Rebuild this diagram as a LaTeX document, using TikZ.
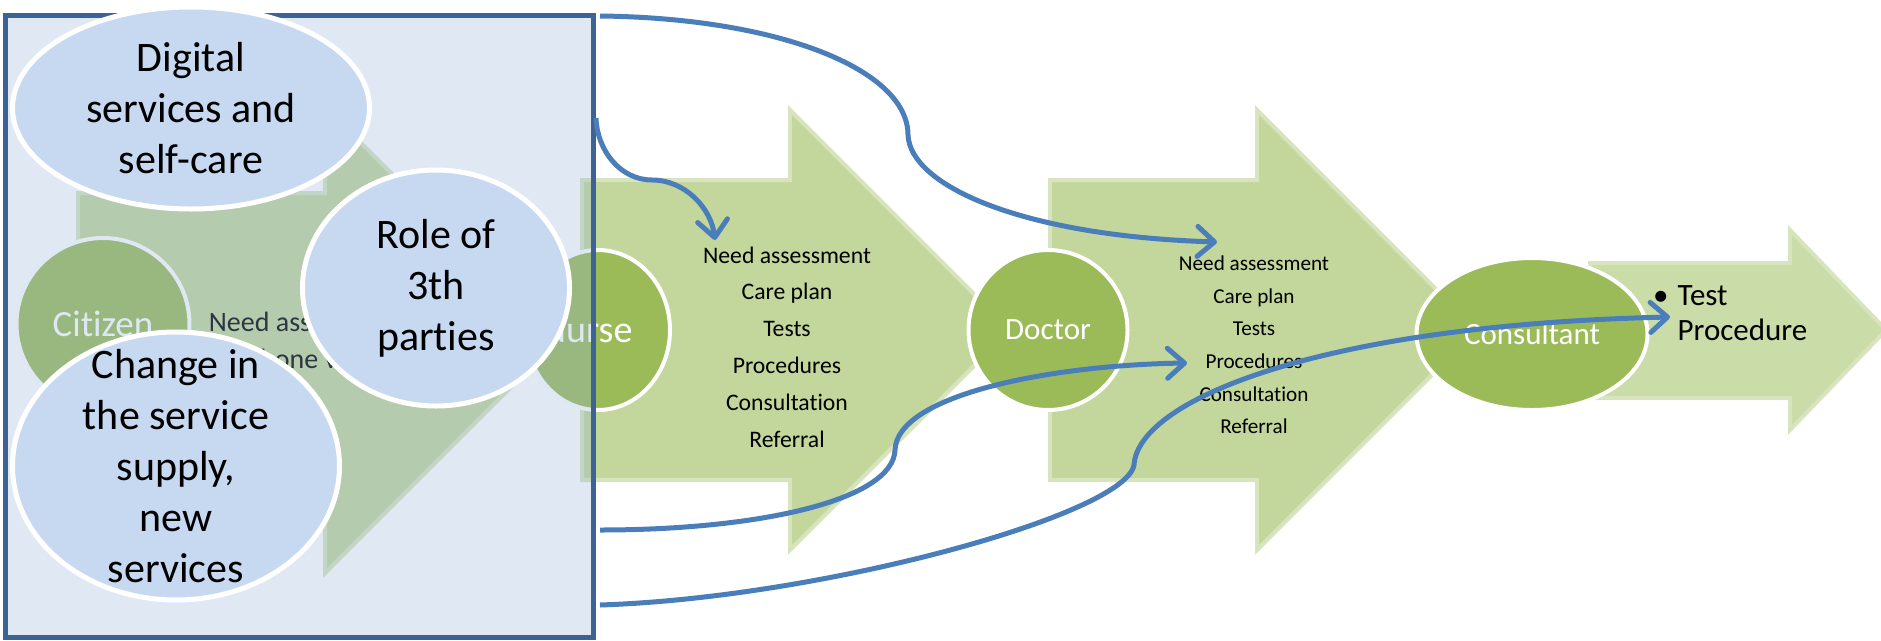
\documentclass[tikz,border=0pt]{standalone}
\usepackage{fontspec}
\setmainfont{Carlito}[Ligatures=NoCommon]
\usetikzlibrary{shapes.geometric,arrows.meta}
\definecolor{stagegreen}{HTML}{C3D69B}
\definecolor{stageedge}{HTML}{D7E4BD}
\definecolor{lastgreen}{HTML}{CADCA8}
\definecolor{actorgreen}{HTML}{9BBB59}
\definecolor{themeblue}{HTML}{C6D9F1}
\definecolor{boxblue}{HTML}{95B3D7}
\definecolor{boxline}{HTML}{3D6394}
\definecolor{linkblue}{HTML}{4A7EBB}
\begin{document}
\begin{tikzpicture}[x=1pt,y=-1pt,
  stage/.style={fill=stagegreen,draw=stageedge,line width=4pt},
  actor/.style={ellipse,fill=actorgreen,draw=white,line width=4pt,inner sep=0pt,text=white,font=\fontsize{31}{36}\selectfont},
  theme/.style={ellipse,fill=themeblue,draw=white,line width=5pt,inner sep=0pt},
  themetext/.style={align=center,font=\fontsize{42}{51}\selectfont},
  tasks/.style={align=center,inner sep=0pt},
  link/.style={draw=linkblue,line width=5pt,-{Straight Barb[length=17pt,width=30pt,round]}}]
\useasboundingbox (0,0) rectangle (1881,640);
\draw[stage] (78,193) -- (325,193) -- (325,107) -- (558,340) -- (325,573) -- (325,487) -- (78,487) -- cycle;
\draw[stage] (582,180) -- (790,180) -- (790,110) -- (1010,330) -- (790,550) -- (790,480) -- (582,480) -- cycle;
\draw[stage] (1050,180) -- (1257,180) -- (1257,110) -- (1477,330) -- (1257,550) -- (1257,480) -- (1050,480) -- cycle;
\draw[stage,fill=lastgreen] (1590,263) -- (1790,263) -- (1790,230) -- (1886,330) -- (1790,430) -- (1790,398) -- (1590,398) -- cycle;
\node[tasks,font=\fontsize{28}{37}\selectfont] (citizentasks) at (308,340) {Need assessment\\Phone visit};
\node[tasks,font=\fontsize{23.7}{36.8}\selectfont] (nursetasks) at (787,347) {Need assessment\\Care plan\\Tests\\Procedures\\Consultation\\Referral};
\node[tasks,font=\fontsize{21.2}{32.6}\selectfont] (doctortasks) at (1254,345) {Need assessment\\Care plan\\Tests\\Procedures\\Consultation\\Referral};
\node[anchor=west,inner sep=0pt,font=\fontsize{31}{35}\selectfont] (consulttasks) at (1653,316) {\begin{tabular}{@{}l@{\hspace{9pt}}l@{}}\textbullet & Test\\ & Procedure\end{tabular}};
\node[actor,minimum width=173pt,minimum height=172pt,font=\fontsize{37}{42}\selectfont] (citizen) at (103,324) {Citizen};
\node[actor,minimum width=144pt,minimum height=160pt,label={[text=white,font=\fontsize{38}{42}\selectfont,xshift=-11pt]center:Nurse}] (nurse) at (598,330) {};
\node[actor,minimum width=159pt,minimum height=160pt] (doctor) at (1048,330) {Doctor};
\node[actor,minimum width=231pt,minimum height=152pt] (consultant) at (1532,334) {Consultant};
\node[draw=boxline,line width=5pt,fill=boxblue,fill opacity=0.3,draw opacity=1,inner sep=0pt,minimum width=588pt,minimum height=622pt] (trendbox) at (299,326) {};
\node[theme,minimum width=357pt,minimum height=202pt,label={[themetext]center:{Digital\\services and\\self-care}}] (digital) at (191,108) {};
\node[theme,minimum width=327pt,minimum height=268pt,label={[themetext]center:{Change in\\the service\\supply,\\new\\services}}] (change) at (176,466) {};
\node[theme,minimum width=267pt,minimum height=236pt,label={[themetext]center:{Role of\\3th\\parties}}] (role) at (436,288) {};
\coordinate (outA) at (600,16);
\coordinate (outB) at (596,118);
\coordinate (outC) at (600,530);
\coordinate (outD) at (600,605);
\coordinate (inNurse) at (715,240);
\coordinate (inDoctor) at (1217,242);
\coordinate (inProc) at (1187,363);
\coordinate (inTest) at (1670,317);
\draw[link] (outA) .. controls (780,18) and (908,70) .. (908,135) .. controls (910,185) and (1020,236) .. (inDoctor);
\draw[link] (outB) .. controls (597,150) and (620,180) .. (652,180) .. controls (685,180) and (711,208) .. (inNurse);
\draw[link] (outC) .. controls (760,530) and (893,500) .. (895,450) .. controls (897,395) and (1050,365) .. (inProc);
\draw[link] (outD) .. controls (820,598) and (1125,515) .. (1134,465) .. controls (1138,400) and (1320,325) .. (inTest);
\end{tikzpicture}
\end{document}
